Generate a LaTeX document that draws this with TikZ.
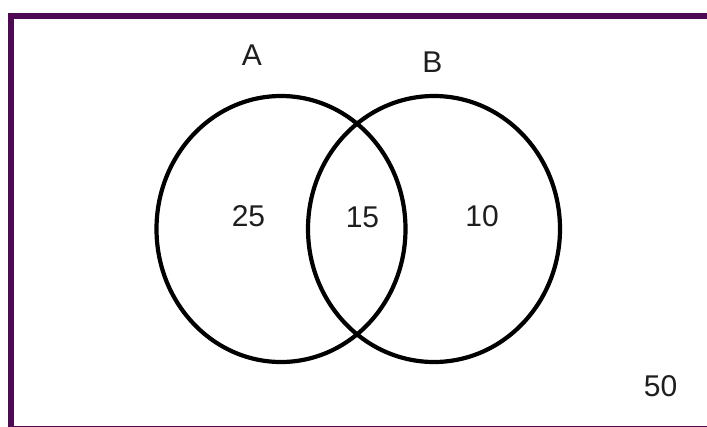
\documentclass[tikz,border=0pt]{standalone}
\usepackage{fontspec}
\setmainfont{Liberation Sans}
\definecolor{frame}{RGB}{78,8,84}
\definecolor{txt}{RGB}{30,30,30}
\begin{document}
\begin{tikzpicture}[x=1pt,y=-1pt,
  setring/.style={draw=black,line width=4.2pt},
  lbl/.style={inner sep=0pt,text=txt,font=\fontsize{30}{30}\selectfont}]
\useasboundingbox (0,0) rectangle (707,426);
\fill[white] (0,0) rectangle (707,426);
\draw[frame,line width=6pt] (720,16) -- (11,16) -- (11,428.5) -- (720,428.5);
\draw[setring] (281,229) ellipse [x radius=124.5, y radius=133];
\draw[setring] (434,229) ellipse [x radius=126, y radius=133];
\node[lbl] (a) at (252,55) {A};
\node[lbl] (b) at (432.5,62.5) {B};
\node[lbl] (n25) at (248.5,216.5) {25};
\node[lbl] (n15) at (362.5,217) {15};
\node[lbl] (n10) at (482,216) {10};
\node[lbl] (n50) at (660.5,386.5) {50};
\end{tikzpicture}
\end{document}
